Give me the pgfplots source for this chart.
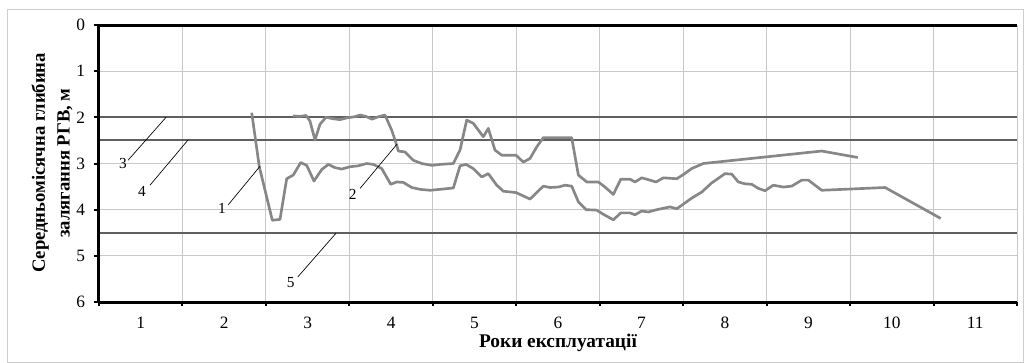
\documentclass[border=0pt]{standalone}
\usepackage{pgfplots}
\pgfplotsset{compat=1.18}
\usepackage{fontspec}
\setmainfont{Liberation Serif}
\definecolor{curvegray}{RGB}{135,135,135}
\definecolor{refgray}{RGB}{95,95,95}
\definecolor{gridgray}{RGB}{200,200,200}
\definecolor{framegray}{RGB}{205,205,205}
\begin{document}
\begin{tikzpicture}[x=0.75pt,y=0.75pt]
\path[use as bounding box] (-99,-61) rectangle (925,302);
\draw[framegray, line width=0.75pt] (-91,-60.6) rectangle (924.6,292);
\begin{axis}[
  at={(0,0)}, anchor=south west,
  scale only axis, width=688.5pt, height=207.75pt,
  xmin=0, xmax=11, ymin=0, ymax=6, y dir=reverse,
  xtick={0.5,1.5,...,10.5}, xticklabels={1,2,3,4,5,6,7,8,9,10,11},
  minor xtick={0,1,...,11},
  ytick={0,1,...,6},
  xminorgrids, ymajorgrids,
  grid style={gridgray, line width=0.75pt},
  minor grid style={gridgray, line width=0.75pt},
  axis line style={draw=none},
  xtick pos=left, xticklabel pos=left,
  ytick pos=left,
  tick align=outside,
  major x tick style={draw=none},
  minor x tick style={black, line width=1.5pt},
  major y tick style={black, line width=1.5pt},
  major tick length=4pt, minor tick length=3pt,
  ticklabel style={font=\fontsize{13}{15}\selectfont},
  /pgf/number format/assume math mode=true,
  xticklabel style={yshift=-4pt},
  yticklabel style={xshift=-3pt},
  clip=false,
]
\addplot[refgray, line width=1.5pt] coordinates {(0,2) (11,2)};
\addplot[refgray, line width=1.5pt] coordinates {(0,2.5) (11,2.5)};
\addplot[refgray, line width=1.5pt] coordinates {(0,4.5) (11,4.5)};
% curve 1
\addplot[curvegray, line width=2pt, line join=round] coordinates {
(1.830,1.90) (1.921,3.07) (2.077,4.23) (2.169,4.21) (2.249,3.33) (2.328,3.25)
(2.417,2.98) (2.489,3.04) (2.576,3.38) (2.669,3.13) (2.748,3.02) (2.828,3.09)
(2.908,3.12) (3.008,3.07) (3.107,3.05) (3.208,3.00) (3.287,3.02) (3.388,3.11)
(3.496,3.45) (3.567,3.40) (3.647,3.41) (3.747,3.52) (3.847,3.56) (3.966,3.58)
(4.086,3.56) (4.246,3.53) (4.326,3.05) (4.398,3.02) (4.485,3.11) (4.586,3.29)
(4.665,3.22) (4.766,3.47) (4.845,3.60) (4.997,3.63) (5.165,3.77) (5.324,3.49)
(5.404,3.52) (5.504,3.51) (5.584,3.47) (5.664,3.49) (5.744,3.83) (5.836,4.00)
(5.964,4.01) (6.043,4.10) (6.163,4.22) (6.252,4.07) (6.363,4.07) (6.423,4.11)
(6.503,4.03) (6.582,4.05) (6.683,4.00) (6.842,3.94) (6.923,3.98) (7.002,3.88)
(7.102,3.75) (7.222,3.62) (7.342,3.42) (7.501,3.22) (7.582,3.23) (7.661,3.40)
(7.741,3.44) (7.821,3.45) (7.901,3.54) (7.981,3.59) (8.080,3.47) (8.200,3.51)
(8.301,3.49) (8.421,3.36) (8.500,3.36) (8.660,3.58) (9.419,3.52) (10.086,4.19)
};
% curve 2
\addplot[curvegray, line width=2pt, line join=round] coordinates {
(2.325,1.97) (2.409,1.98) (2.481,1.96) (2.528,2.08) (2.588,2.49) (2.648,2.15)
(2.720,2.00) (2.804,2.03) (2.888,2.05) (2.972,2.01) (3.056,1.99) (3.128,1.95)
(3.199,1.98) (3.271,2.04) (3.343,1.99) (3.427,1.95) (3.508,2.28) (3.567,2.60)
(3.587,2.73) (3.667,2.75) (3.766,2.93) (3.867,3.00) (3.987,3.04) (4.086,3.02)
(4.246,3.00) (4.326,2.71) (4.406,2.06) (4.485,2.13) (4.605,2.42) (4.665,2.24)
(4.745,2.71) (4.826,2.82) (4.997,2.82) (5.085,2.97) (5.165,2.89) (5.245,2.64)
(5.324,2.44) (5.664,2.44) (5.744,3.25) (5.844,3.40) (5.983,3.40) (6.063,3.51)
(6.163,3.67) (6.252,3.34) (6.363,3.34) (6.423,3.40) (6.503,3.31) (6.582,3.35)
(6.675,3.40) (6.762,3.31) (6.923,3.33) (7.002,3.24) (7.102,3.11) (7.241,3.00)
(8.660,2.73) (9.092,2.87)
};
% axis lines
\draw[black, line width=2.25pt] (axis cs:0,0) -- (axis cs:11,0);
\draw[black, line width=2.25pt] (axis cs:0,6) -- (axis cs:11,6);
\draw[black, line width=2.25pt] (axis cs:0,0) -- (axis cs:0,6);
% leader lines and labels
\begin{scope}[font=\fontsize{11.5}{13}\selectfont]
\draw[black, line width=0.5pt] (axis cs:0.348,2.93) -- (axis cs:0.803,2.0);
\node at (axis cs:0.288,3.00) {3};
\draw[black, line width=0.5pt] (axis cs:0.611,3.47) -- (axis cs:1.067,2.49);
\node at (axis cs:0.515,3.60) {4};
\draw[black, line width=0.5pt] (axis cs:1.546,3.90) -- (axis cs:1.929,3.06);
\node at (axis cs:1.474,3.97) {1};
\draw[black, line width=0.5pt] (axis cs:3.128,3.54) -- (axis cs:3.571,2.58);
\node at (axis cs:3.040,3.66) {2};
\draw[black, line width=0.5pt] (axis cs:2.381,5.46) -- (axis cs:2.840,4.51);
\node at (axis cs:2.297,5.58) {5};
\end{scope}
\end{axis}
\draw[gridgray, line width=0.75pt] (918,0) -- (918,277);
\node[font=\bfseries\fontsize{14.5}{16}\selectfont] at (459,-41) {Роки експлуатації};
\node[font=\bfseries\fontsize{14}{18.5}\selectfont, align=center, rotate=90] at (-47,139) {Середньомісячна глибина\\залягання РГВ, м};
\end{tikzpicture}
\end{document}
